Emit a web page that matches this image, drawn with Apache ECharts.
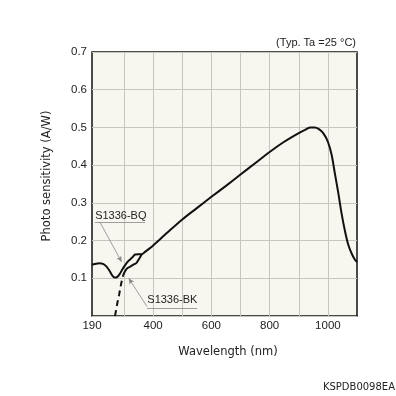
<!DOCTYPE html>
<html><head><meta charset="utf-8">
<script src="https://cdn.jsdelivr.net/npm/echarts@6/dist/echarts.min.js"></script>
<style>html,body{margin:0;padding:0;background:#fff}#c{width:396px;height:396px}</style>
</head><body><div id="c"></div>
<script>
// ---- data ----
const wavelengthBQ = [190,200,215,228,240,250,260,268,276,285,293,302,315,328,338,350,360,372,389,400,450,500,550,600,650,700,750,800,850,900,925,940,955,968,984,1000,1013,1024,1036,1047,1059,1070,1082,1093,1100];
const sensBQ       = [0.136,0.138,0.140,0.138,0.131,0.120,0.107,0.102,0.103,0.111,0.122,0.133,0.146,0.155,0.163,0.164,0.164,0.170,0.180,0.187,0.222,0.256,0.286,0.316,0.345,0.375,0.405,0.435,0.462,0.485,0.495,0.500,0.500,0.496,0.485,0.462,0.427,0.378,0.325,0.272,0.224,0.189,0.165,0.149,0.143];
const wavelengthBKdash = [269,276,283,290,297];
const sensBKdash       = [0.000,0.030,0.056,0.085,0.108];
const wavelengthBK = [297,303,312,321,332,343,352,361];
const sensBK       = [0.108,0.118,0.127,0.131,0.136,0.141,0.152,0.164];
const xLabelValues = [190,400,600,800,1000];
const xGridValues  = [300,400,500,600,700,800,900,1000];
const yRange = [0,0.7,0.1];
const xRange = [190,1100];

// annotation anchors in data coordinates
const notes = [
  {text:'S1336-BQ', at:[289,0.265], under:[[200,0.249],[372,0.249]], leader:[[217,0.249],[292,0.143]]},
  {text:'S1336-BK', at:[466,0.043], under:[[379,0.021],[551,0.021]], leader:[[379,0.025],[316,0.100]]}
];

const FONT = 'DejaVu Sans';
const TFONT = 'Liberation Sans';
const zip = (a,b) => a.map((v,i)=>[v,b[i]]);
const chart = echarts.init(document.getElementById('c'), null, {renderer:'canvas'});

const mlData = [];
notes.forEach(n=>{
  mlData.push([{coord:n.under[0],symbol:'none'},{coord:n.under[1],symbol:'none'}]);
  mlData.push([{coord:n.leader[0],symbol:'none'},{coord:n.leader[1],symbol:'arrow',symbolSize:[4,6]}]);
});

const option = {
  animation:false,
  backgroundColor:'#ffffff',
  grid:{left:92,top:52,right:39,bottom:80,show:true,backgroundColor:'#f7f6ef',borderColor:'#111',borderWidth:1.5,containLabel:false},
  xAxis:{type:'value',min:xRange[0],max:xRange[1],
    axisLine:{show:false},
    axisTick:{show:false,customValues:xGridValues},
    axisLabel:{customValues:xLabelValues,margin:4,color:'#222',fontFamily:TFONT,fontSize:11.5,formatter:v=>String(v)},
    splitLine:{show:true,lineStyle:{color:'#c6c6be',width:1}}
  },
  yAxis:{type:'value',min:yRange[0],max:yRange[1],interval:yRange[2],
    axisLine:{show:false},axisTick:{show:false},
    axisLabel:{margin:5,color:'#222',fontFamily:TFONT,fontSize:11.5,formatter:v=> v===0?'':v.toFixed(1)},
    splitLine:{show:true,lineStyle:{color:'#c6c6be',width:1}}
  },
  series:[
    {name:'S1336-BQ',type:'line',data:zip(wavelengthBQ,sensBQ),symbol:'none',smooth:0.3,
      lineStyle:{color:'#111',width:2},z:3,
      markLine:{silent:true,animation:false,label:{show:false},lineStyle:{color:'#888',width:0.8,type:'solid'},data:mlData}},
    {name:'S1336-BK dashed',type:'line',data:zip(wavelengthBKdash,sensBKdash),symbol:'none',smooth:0.3,
      lineStyle:{color:'#111',width:2,type:[6,4]},z:3},
    {name:'S1336-BK',type:'line',data:zip(wavelengthBK,sensBK),symbol:'none',smooth:0.3,
      lineStyle:{color:'#111',width:2},z:3}
  ]
};
chart.setOption(option);

const gfx = notes.map(n=>{
  const p = chart.convertToPixel({gridIndex:0}, n.at);
  return {type:'text',x:p[0],y:p[1],style:{text:n.text,fill:'#222',font:'11px "'+TFONT+'"',textAlign:'center',textVerticalAlign:'middle'},z:10};
});
gfx.push({type:'text',x:356,y:42.5,style:{text:'(Typ. Ta =25 °C)',fill:'#222',font:'11px "'+TFONT+'"',textAlign:'right',textVerticalAlign:'middle'}});
gfx.push({type:'text',x:228,y:352.5,style:{text:'Wavelength (nm)',fill:'#222',font:'11.5px "'+FONT+'"',textAlign:'center',textVerticalAlign:'middle'}});
gfx.push({type:'text',x:47,y:176,rotation:Math.PI/2,style:{text:'Photo sensitivity (A/W)',fill:'#222',font:'11.5px "'+FONT+'"',textAlign:'center',textVerticalAlign:'middle'}});
gfx.push({type:'text',x:395,y:387.5,style:{text:'KSPDB0098EA',fill:'#222',font:'10px "'+FONT+'"',textAlign:'right',textVerticalAlign:'middle'}});
chart.setOption({graphic:gfx});
</script></body></html>
